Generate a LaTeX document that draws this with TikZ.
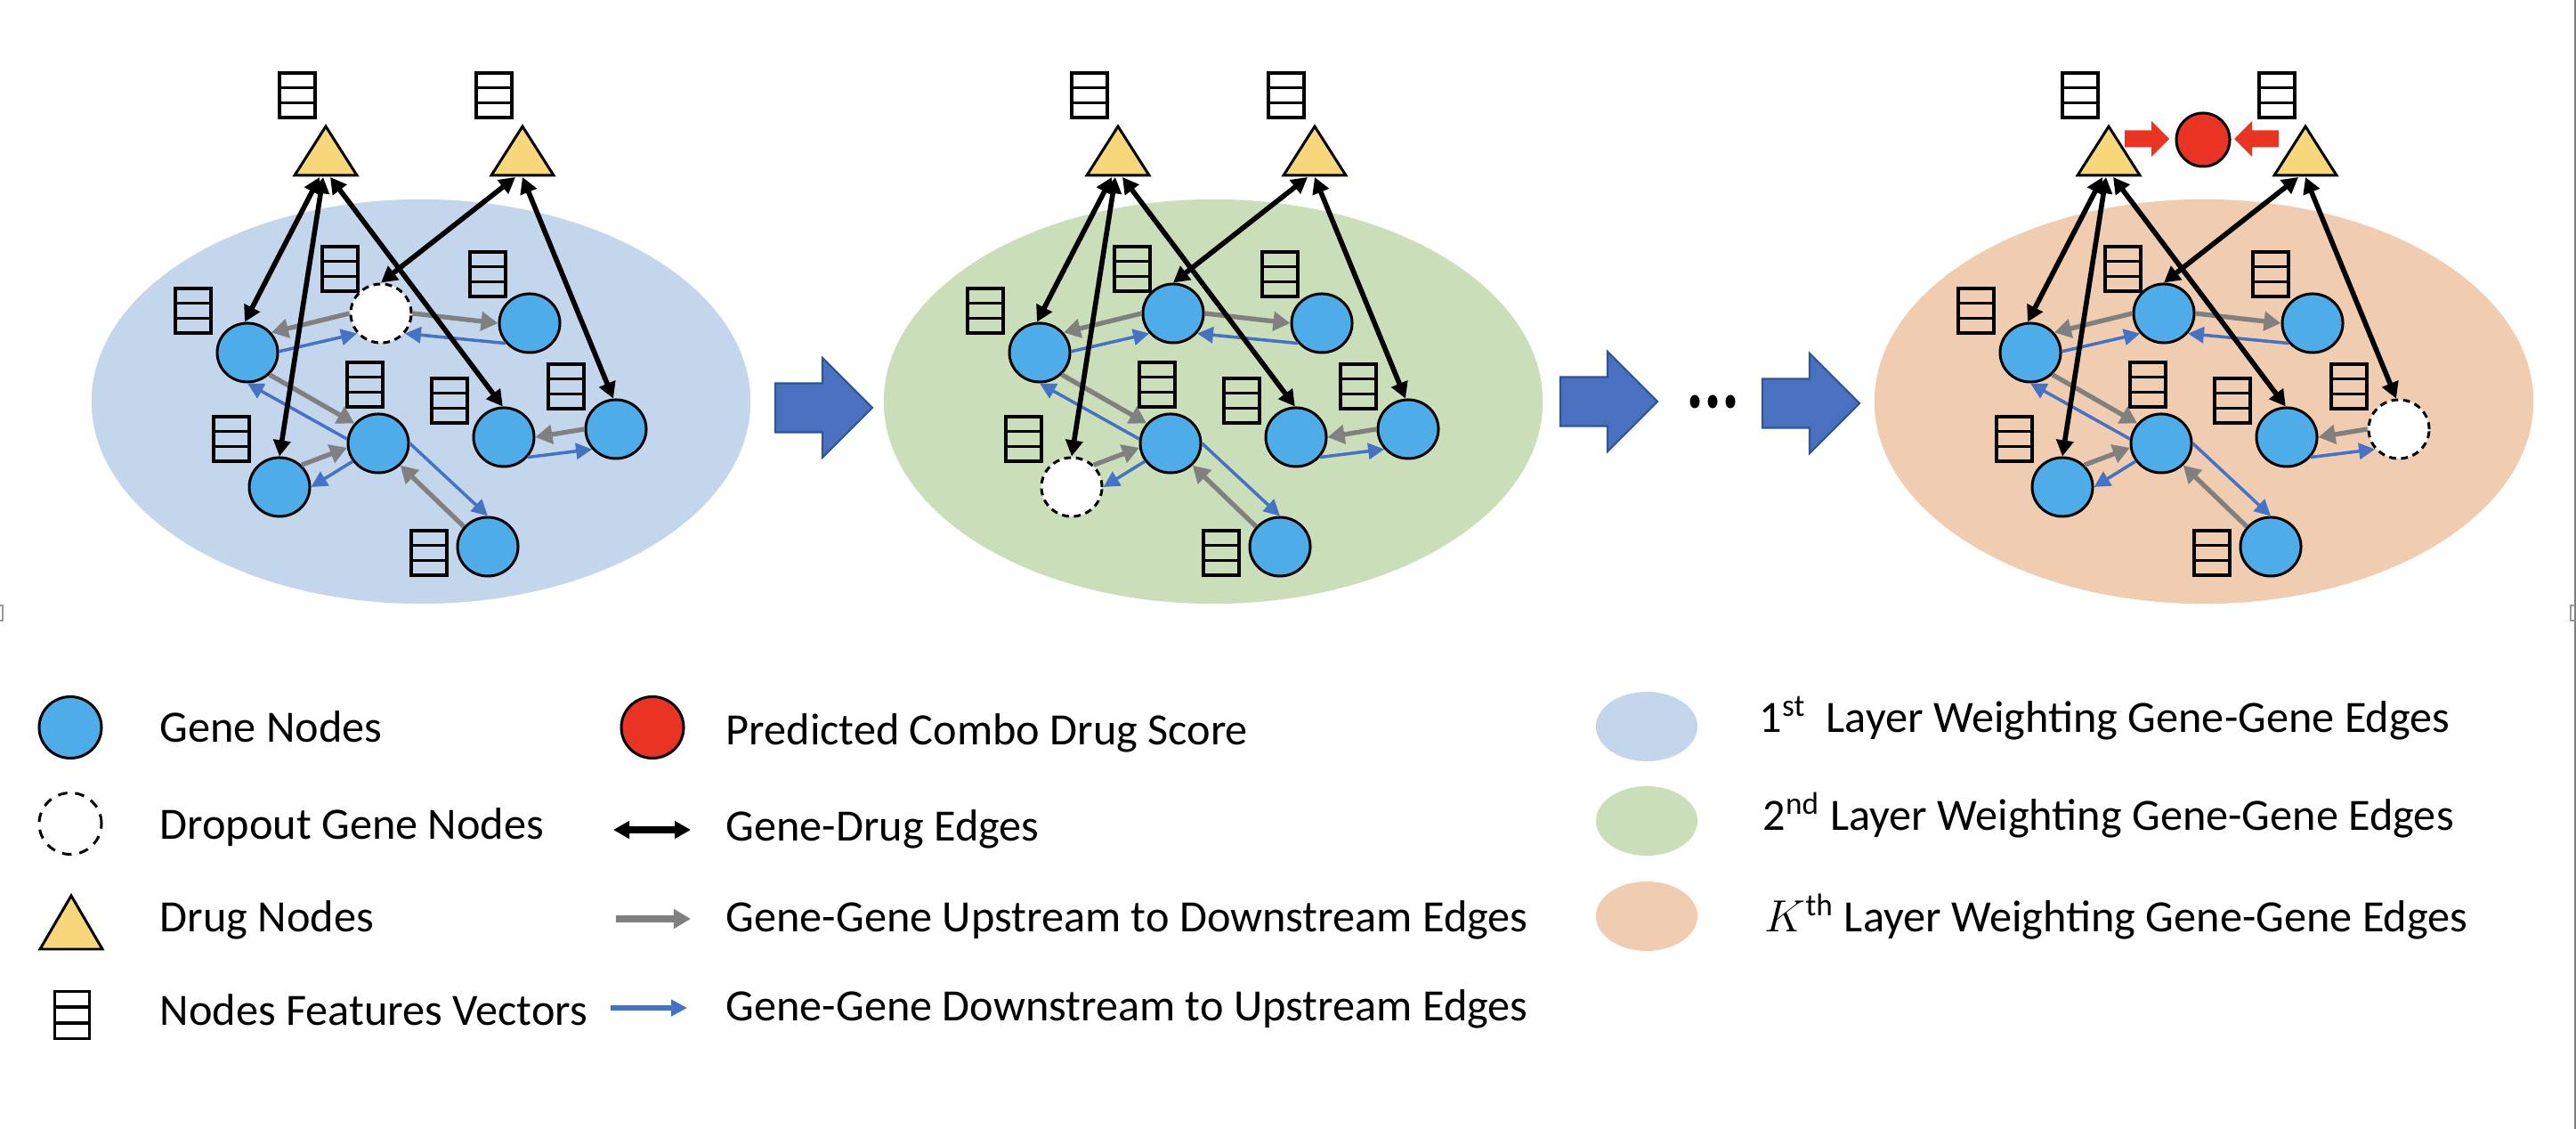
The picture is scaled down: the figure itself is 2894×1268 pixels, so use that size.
\documentclass[tikz,border=0pt]{standalone}
\usepackage{fontspec}
\setmainfont{Carlito}
\usetikzlibrary{shapes.geometric,arrows.meta,calc}
\definecolor{ellA}{RGB}{195,214,236}
\definecolor{ellB}{RGB}{202,223,185}
\definecolor{ellC}{RGB}{240,204,176}
\definecolor{genec}{RGB}{78,173,232}
\definecolor{drugc}{RGB}{248,215,123}
\definecolor{redc}{RGB}{233,51,35}
\definecolor{grayc}{RGB}{128,128,128}
\definecolor{bluec}{RGB}{68,114,196}
\definecolor{bigc}{RGB}{74,112,192}
\definecolor{bigd}{RGB}{47,85,151}
\tikzset{
  gene/.style={ellipse, draw=black, line width=0.85pt, fill=genec, minimum width=0.68cm, minimum height=0.66cm, inner sep=0pt},
  drop/.style={gene, fill=white, dash pattern=on 2.2pt off 1.6pt},
  redn/.style={gene, fill=redc},
  fvec/.style={draw=black, line width=1pt, minimum width=0.40cm, minimum height=0.50cm, inner sep=0pt,
    path picture={\draw[line width=1pt]
      ($(path picture bounding box.north west)!0.3333!(path picture bounding box.south west)$) --
      ($(path picture bounding box.north east)!0.3333!(path picture bounding box.south east)$)
      ($(path picture bounding box.north west)!0.6667!(path picture bounding box.south west)$) --
      ($(path picture bounding box.north east)!0.6667!(path picture bounding box.south east)$);}},
  drugsty/.style={draw=black, line width=0.85pt, fill=drugc, line join=miter},
  gd/.style={draw=black, line width=1.6pt, {Triangle[length=0.18cm,width=0.19cm]}-{Triangle[length=0.18cm,width=0.19cm]}},
  gg/.style={draw=grayc, line width=1.5pt, -{Triangle[length=0.19cm,width=0.21cm]}},
  bb/.style={draw=bluec, line width=1pt, -{Triangle[length=0.18cm,width=0.18cm]}},
  bigar/.style={fill=bigc, draw=bigd, line width=0.6pt, line join=miter},
  txt/.style={anchor=base west, inner sep=0pt, font=\fontsize{14.3pt}{17pt}\selectfont},
  legell/.style={ellipse, minimum width=1.14cm, minimum height=0.78cm, inner sep=0pt}
}
\newcommand\drawpanel[6]{%
  \begin{scope}[shift={(#2,0)}]
    \fill[#3] (473,451) ellipse [x radius=3.70cm, y radius=2.27cm];
    % drugs
    \draw[drugsty] (331,197) -- (401,197) -- (366,142) -- cycle;
    \draw[drugsty] (552,197) -- (622,197) -- (587,142) -- cycle;
    \coordinate (#1T1) at (366,199);
    \coordinate (#1T2) at (587,199);
    % feature vectors
    \node[fvec] (#1fT1) at (334,107) {};
    \node[fvec] (#1fT2) at (555,107) {};
    \node[fvec] (#1fG1) at (217,349) {};
    \node[fvec] (#1fD) at (382,302) {};
    \node[fvec] (#1fG3) at (548,308) {};
    \node[fvec] (#1fG4) at (410,432) {};
    \node[fvec] (#1fG5) at (260,493) {};
    \node[fvec] (#1fG6) at (505,450) {};
    \node[fvec] (#1fG7) at (636,434) {};
    \node[fvec] (#1fG8) at (482,621) {};
    % genes
    \node[gene] (#1G1) at (278,396) {};
    \node[#4] (#1D) at (428,352) {};
    \node[gene] (#1G3) at (595,363) {};
    \node[gene] (#1G4) at (425,498) {};
    \node[#5] (#1G5) at (314,547) {};
    \node[gene] (#1G6) at (566,491) {};
    \node[#6] (#1G7) at (692,482) {};
    \node[gene] (#1G8) at (548,614) {};
    % gene-gene edges
    \draw[gg] (#1D.180) -- (#1G1.40);
    \draw[bb] (#1G1.2) -- (#1D.220);
    \draw[gg] (#1D.0) -- (#1G3.180);
    \draw[bb] (#1G3.220) -- (#1D.-40);
    \draw[gg] (#1G1.-45) -- (#1G4.140);
    \draw[bb] (#1G4.172) -- (#1G1.-90);
    \draw[gg] (#1G5.45) -- (#1G4.188);
    \draw[bb] (#1G4.215) -- (#1G5.0);
    \draw[gg] (#1G8.140) -- (#1G4.-45);
    \draw[bb] (#1G4.0) -- (#1G8.90);
    \draw[gg] (#1G7.180) -- (#1G6.0);
    \draw[bb] (#1G6.-40) -- (#1G7.220);
    % gene-drug edges
    \draw[gd] ([xshift=-0.07cm]#1T1) -- (#1G1.95);
    \draw[gd] ([xshift=-0.03cm]#1T1) -- (#1G5.90);
    \draw[gd] ([xshift=0.05cm]#1T1) -- (#1G6.92);
    \draw[gd] ([xshift=-0.08cm]#1T2) -- (#1D.90);
    \draw[gd] (#1T2) -- (#1G7.95);
  \end{scope}}
\newcommand\bigarrow[2]{%
  \begin{scope}[shift={(#1,#2)}]
    \draw[bigar] (0,-27.5) -- (53,-27.5) -- (53,-56) -- (109,0) -- (53,56) -- (53,27.5) -- (0,27.5) -- cycle;
  \end{scope}}
\begin{document}
\begin{tikzpicture}[x=0.01cm, y=-0.01cm]
  \useasboundingbox (0,0) rectangle (2894,1268);
  \fill[white] (0,0) rectangle (2894,1268);

  \drawpanel{a}{0}{ellA}{drop}{gene}{gene}
  \drawpanel{b}{890}{ellB}{gene}{drop}{gene}
  \drawpanel{c}{2003}{ellC}{gene}{gene}{drop}

  % predicted score in panel 3
  \node[redn, minimum width=0.60cm, minimum height=0.60cm] (score) at (2475,157) {};
  \fill[redc] (2387,146.5) -- (2417,146.5) -- (2417,136) -- (2437,156) -- (2417,176) -- (2417,165.5) -- (2387,165.5) -- cycle;
  \fill[redc] (2560,146.5) -- (2530,146.5) -- (2530,136) -- (2510,156) -- (2530,176) -- (2530,165.5) -- (2560,165.5) -- cycle;

  % block arrows and dots
  \bigarrow{871}{458}
  \bigarrow{1753}{451}
  \bigarrow{1980}{453}
  \fill[black] (1904,451) ellipse [x radius=0.055cm, y radius=0.075cm];
  \fill[black] (1924,451) ellipse [x radius=0.055cm, y radius=0.075cm];
  \fill[black] (1944,451) ellipse [x radius=0.055cm, y radius=0.075cm];

  % legend column 1
  \node[gene, minimum width=0.70cm, minimum height=0.69cm] (lgene) at (79,817) {};
  \node[drop, minimum width=0.70cm, minimum height=0.69cm, dash pattern=on 3pt off 2.5pt] (ldrop) at (79,925) {};
  \draw[drugsty] (45,1066) -- (115,1066) -- (80,1006) -- cycle;
  \node[fvec, minimum width=0.39cm, minimum height=0.53cm] (lfv) at (81,1140) {};
  \node[txt] (tgene) at (179,834) {Gene Nodes};
  \node[txt] (tdrop) at (179,943) {Dropout Gene Nodes};
  \node[txt] (tdrug) at (179,1047) {Drug Nodes};
  \node[txt] (tfv) at (179,1152) {Nodes Features Vectors};

  % legend column 2
  \node[redn, minimum width=0.70cm, minimum height=0.69cm] (lred) at (733,817) {};
  \coordinate (lga) at (689,932); \coordinate (lgb) at (776,932);
  \draw[gd, line width=2pt] (lga) -- (lgb);
  \coordinate (lua) at (692,1032); \coordinate (lub) at (776,1032);
  \draw[gg, line width=2.1pt] (lua) -- (lub);
  \coordinate (lda) at (686,1132); \coordinate (ldb) at (772,1132);
  \draw[bb, line width=1.8pt] (lda) -- (ldb);
  \node[txt] (tred) at (815,837) {Predicted Combo Drug Score};
  \node[txt] (tgd) at (815,945) {Gene-Drug Edges};
  \node[txt] (tup) at (815,1047) {Gene-Gene Upstream to Downstream Edges};
  \node[txt] (tdown) at (815,1147) {Gene-Gene Downstream to Upstream Edges};

  % legend column 3
  \node[legell, fill=ellA] (l1) at (1850,816) {};
  \node[legell, fill=ellB] (l2) at (1850,922) {};
  \node[legell, fill=ellC] (l3) at (1850,1029) {};
  \node[txt] (t1) at (1976,823) {1\textsuperscript{st}\ \ Layer Weighting Gene-Gene Edges};
  \node[txt] (t2) at (1980,933) {2\textsuperscript{nd} Layer Weighting Gene-Gene Edges};
  \node[txt] (t3) at (1982,1047) {$K^{\mathrm{th}}$ Layer Weighting Gene-Gene Edges};

  % page edge marks
  \draw[gray, line width=0.5pt] (2893,0) -- (2893,1268);
  \draw[gray!80, line width=0.5pt] (0,680) -- (3,680) -- (3,697) -- (0,697);
  \draw[gray!80, line width=0.5pt] (2893,680) -- (2888,680) -- (2888,697) -- (2893,697);
\end{tikzpicture}
\end{document}
